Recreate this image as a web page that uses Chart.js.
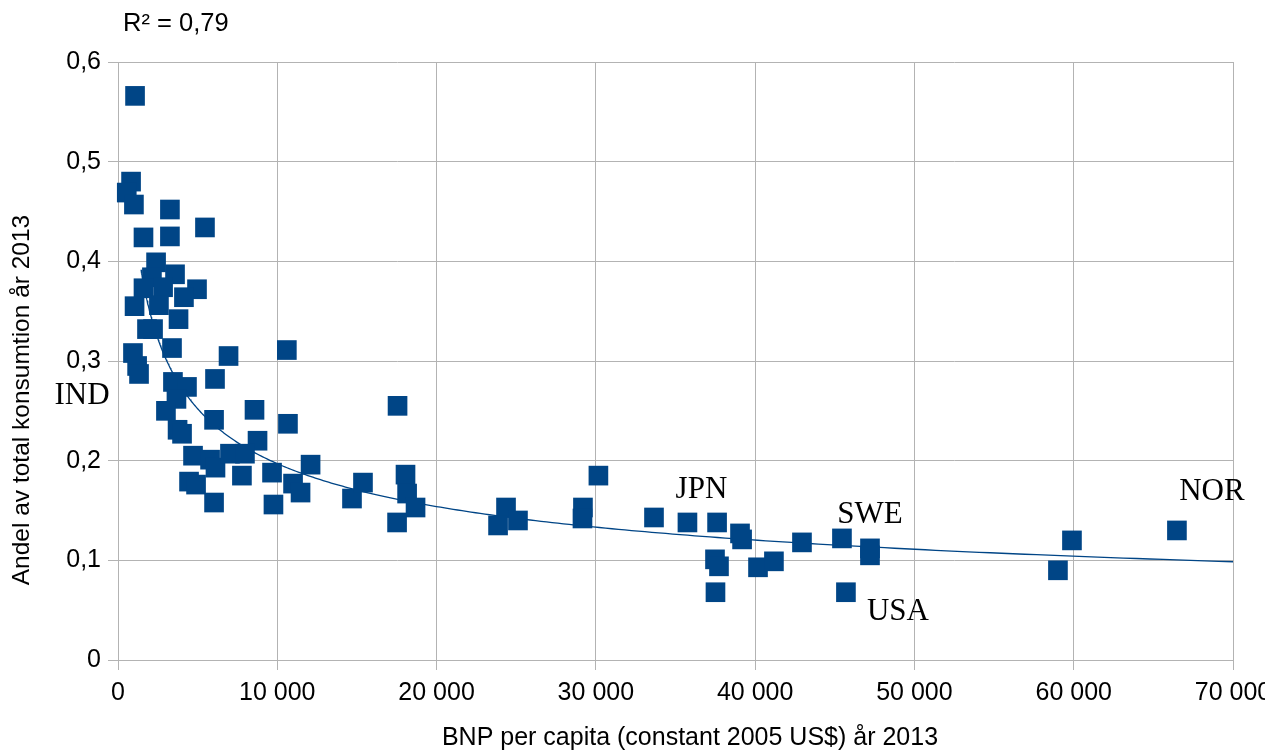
<!DOCTYPE html>
<html>
<head>
<meta charset="utf-8">
<title>Andel av total konsumtion och BNP per capita 2013</title>
<script src="https://cdn.jsdelivr.net/npm/chart.js@4.4.1/dist/chart.umd.min.js"></script>
<style>
  html, body { margin: 0; padding: 0; background: #ffffff; }
  #wrap { width: 1265px; height: 751px; position: relative; }
</style>
</head>
<body>
<div id="wrap"><canvas id="chart" width="1265" height="751"></canvas></div>
<script>
// BNP per capita (constant 2005 US$), one entry per country
const gdpPerCapita = [
  1070, 820, 550, 1000, 3260, 1600, 3260, 5460, 2390, 2130,
  3580, 1600, 2830, 4960, 4140, 1040, 2570, 3800, 1820, 2200,
  940, 3390, 6940, 10600, 1200, 1320, 3450, 4330, 3670, 6090,
  3010, 8570, 6030, 3740, 4020, 10670, 8760, 4710, 5780, 6120,
  7030, 7970, 7780, 9670, 12090, 4460, 4900, 6030, 9760, 10990,
  11460, 14690, 15380, 17550, 18050, 18150, 18680, 17520, 24360, 23860,
  25110, 30160, 29190, 29160, 33650, 35750, 37610, 39050, 39180, 37480,
  37730, 37510, 40180, 41180, 42940, 45450, 45700, 47210, 47210, 59890,
  59010, 66480
];

// Andel av total konsumtion, same order as gdpPerCapita
const consumptionShare = [
  0.566, 0.480, 0.469, 0.457, 0.452, 0.424, 0.425, 0.434, 0.399, 0.384,
  0.387, 0.373, 0.374, 0.372, 0.364, 0.355, 0.356, 0.342, 0.332, 0.332,
  0.308, 0.313, 0.305, 0.311, 0.295, 0.287, 0.279, 0.274, 0.262, 0.282,
  0.250, 0.251, 0.241, 0.231, 0.227, 0.237, 0.220, 0.205, 0.201, 0.193,
  0.207, 0.207, 0.185, 0.188, 0.196, 0.179, 0.176, 0.158, 0.156, 0.177,
  0.168, 0.162, 0.178, 0.255, 0.186, 0.167, 0.153, 0.138, 0.153, 0.135,
  0.140, 0.185, 0.153, 0.142, 0.143, 0.138, 0.138, 0.127, 0.121, 0.101,
  0.094, 0.068, 0.093, 0.099, 0.118, 0.122, 0.068, 0.112, 0.105, 0.120,
  0.090, 0.130
];

// Named countries and the index of their point
const countryLabels = ['IND', 'JPN', 'SWE', 'USA', 'NOR'];
const countryPointIndex = [25, 65, 75, 76, 81];

const xTickValues = [0, 10000, 20000, 30000, 40000, 50000, 60000, 70000];
const yTickValues = [0, 0.1, 0.2, 0.3, 0.4, 0.5, 0.6];

const rSquaredLabel = 'R\u00B2 = 0,79';
const xAxisTitle = 'BNP per capita (constant 2005 US$) \u00E5r 2013';
const yAxisTitle = 'Andel av total konsumtion \u00E5r 2013';

// ---------------------------------------------------------------------------
const MARK_COLOR = '#004586';
const GRID_COLOR = '#b3b3b3';
const SANS = '"Liberation Sans", Arial, sans-serif';
const SERIF = '"Liberation Serif", "Times New Roman", serif';

// Power trend y = c * x^b, least squares on ln(x), ln(y)
function powerFit(xs, ys) {
  const n = xs.length;
  let sx = 0, sy = 0, sxx = 0, sxy = 0;
  for (let i = 0; i < n; i++) {
    const lx = Math.log(xs[i]), ly = Math.log(ys[i]);
    sx += lx; sy += ly; sxx += lx * lx; sxy += lx * ly;
  }
  const b = (n * sxy - sx * sy) / (n * sxx - sx * sx);
  const a = (sy - b * sx) / n;
  return { c: Math.exp(a), b: b };
}

const fit = powerFit(gdpPerCapita, consumptionShare);
const TREND_FROM = 1450;
const trendTo = xTickValues[xTickValues.length - 1];
const trendPoints = [];
for (let i = 0; i <= 300; i++) {
  const x = TREND_FROM * Math.pow(trendTo / TREND_FROM, i / 300);
  trendPoints.push({ x: x, y: fit.c * Math.pow(x, fit.b) });
}

const scatterPoints = gdpPerCapita.map((x, i) => ({ x: x, y: consumptionShare[i] }));

function formatThousands(v) {
  return String(Math.round(v)).replace(/\B(?=(\d{3})+(?!\d))/g, ' ');
}
function formatDecimal(v) {
  if (Math.abs(v) < 1e-9) return '0';
  return v.toFixed(1).replace('.', ',');
}

// Axis titles, R² note and country names
const textPlugin = {
  id: 'chartTexts',
  afterDraw(chart) {
    const ctx = chart.ctx;
    const xs = chart.scales.x, ys = chart.scales.y;
    ctx.save();
    ctx.fillStyle = '#000000';

    ctx.font = '25.5px ' + SANS;
    ctx.textAlign = 'left';
    ctx.textBaseline = 'middle';
    ctx.fillText(rSquaredLabel, 123, 24);

    ctx.font = '25px ' + SANS;
    ctx.textAlign = 'center';
    ctx.fillText(xAxisTitle, 690, 738);

    ctx.save();
    ctx.font = '24.5px ' + SANS;
    ctx.translate(22, 400);
    ctx.rotate(-Math.PI / 2);
    ctx.fillText(yAxisTitle, 0, 0);
    ctx.restore();

    const offsets = { IND: [-57, 22], JPN: [14, -33], SWE: [28, -24], USA: [52, 20], NOR: [35, -39] };
    ctx.font = '31px ' + SERIF;
    ctx.textAlign = 'center';
    ctx.textBaseline = 'middle';
    countryLabels.forEach((name, k) => {
      const idx = countryPointIndex[k];
      const px = xs.getPixelForValue(gdpPerCapita[idx]);
      const py = ys.getPixelForValue(consumptionShare[idx]);
      const off = offsets[name];
      ctx.fillText(name, px + off[0], py + off[1]);
    });
    ctx.restore();
  }
};

function fixAxisBox(size, isHorizontal) {
  return function (scale) {
    if (isHorizontal) scale.height = size; else scale.width = size;
    scale.paddingLeft = 0; scale.paddingRight = 0;
    scale.paddingTop = 0; scale.paddingBottom = 0;
  };
}

new Chart(document.getElementById('chart'), {
  type: 'scatter',
  data: {
    datasets: [
      {
        label: 'Andel av total konsumtion',
        data: scatterPoints,
        pointStyle: 'rect',
        pointRadius: 13.9,
        pointHoverRadius: 13.9,
        backgroundColor: MARK_COLOR,
        borderColor: MARK_COLOR,
        borderWidth: 0,
        clip: false,
        order: 0
      },
      {
        type: 'line',
        label: 'Trend (potens)',
        data: trendPoints,
        borderColor: MARK_COLOR,
        borderWidth: 1.3,
        pointRadius: 0,
        fill: false,
        tension: 0,
        order: 1
      }
    ]
  },
  options: {
    responsive: false,
    animation: false,
    devicePixelRatio: 1,
    layout: { padding: { left: 0, right: 32, top: 62, bottom: 0 } },
    plugins: {
      legend: { display: false },
      tooltip: { enabled: false },
      title: { display: false }
    },
    scales: {
      x: {
        type: 'linear',
        position: 'bottom',
        min: xTickValues[0],
        max: xTickValues[xTickValues.length - 1],
        afterBuildTicks(scale) { scale.ticks = xTickValues.map(v => ({ value: v })); },
        afterFit: fixAxisBox(91, true),
        ticks: {
          autoSkip: false,
          maxRotation: 0,
          padding: 8,
          color: '#000000',
          font: { family: SANS, size: 25 },
          callback: v => formatThousands(v)
        },
        grid: { color: GRID_COLOR, lineWidth: 1, tickLength: 10, drawTicks: true },
        border: { display: true, color: GRID_COLOR, width: 1 }
      },
      y: {
        type: 'linear',
        position: 'left',
        min: yTickValues[0],
        max: yTickValues[yTickValues.length - 1],
        afterBuildTicks(scale) { scale.ticks = yTickValues.map(v => ({ value: v })); },
        afterFit: fixAxisBox(118, false),
        ticks: {
          autoSkip: false,
          padding: 7,
          color: '#000000',
          font: { family: SANS, size: 25 },
          callback: v => formatDecimal(v)
        },
        grid: { color: GRID_COLOR, lineWidth: 1, tickLength: 10, drawTicks: true },
        border: { display: true, color: GRID_COLOR, width: 1 }
      }
    }
  },
  plugins: [textPlugin]
});
</script>
</body>
</html>
